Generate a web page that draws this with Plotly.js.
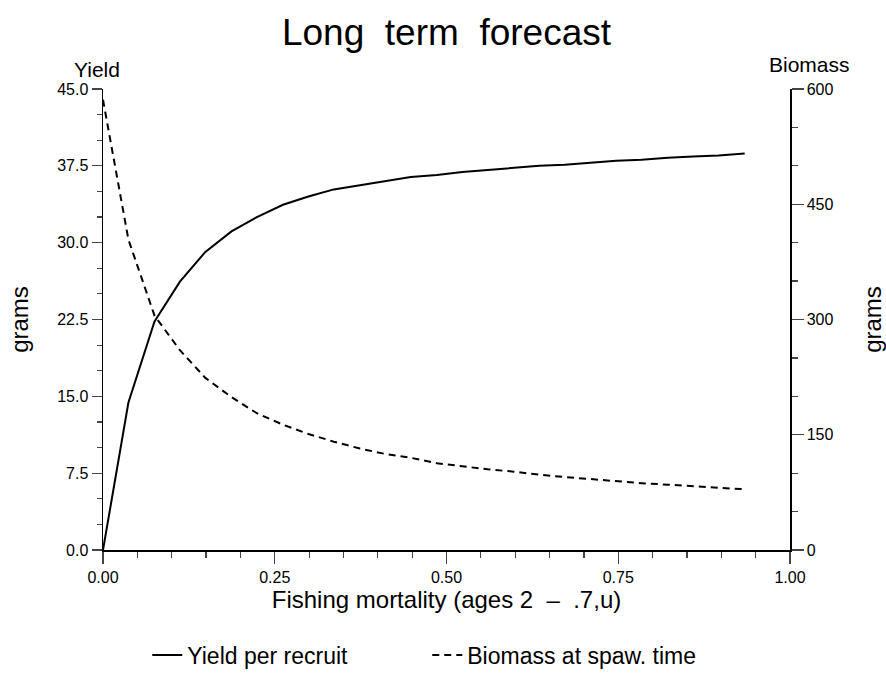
<!DOCTYPE html>
<html>
<head>
<meta charset="utf-8">
<script src="https://cdn.plot.ly/plotly-3.0.1.min.js"></script>
<style>html,body{margin:0;padding:0;background:#fff;}#chart{width:886px;height:684px;}</style>
</head>
<body>
<div id="chart"></div>
<script>
// Fishing mortality values (x)
const fishingMortality = [0, 0.037, 0.075, 0.112, 0.149, 0.187, 0.224, 0.262, 0.299, 0.336, 0.374, 0.411, 0.448, 0.486, 0.523, 0.560, 0.598, 0.635, 0.672, 0.710, 0.747, 0.784, 0.822, 0.859, 0.896, 0.934];
// Yield per recruit (grams, left axis)
const yieldPerRecruit = [0, 14.4, 22.3, 26.2, 29.1, 31.1, 32.5, 33.7, 34.5, 35.2, 35.6, 36.0, 36.4, 36.6, 36.9, 37.1, 37.3, 37.5, 37.6, 37.8, 38.0, 38.1, 38.3, 38.4, 38.5, 38.7];
// Biomass at spawning time (grams, right axis)
const biomassAtSpawn = [586, 404, 305, 260, 224, 199, 178, 163, 151, 141, 132, 125, 120, 113, 109, 105, 102, 98, 95, 92, 90, 87, 85, 83, 81, 79];

const xTickVals = [0, 0.25, 0.5, 0.75, 1.0];
const yTickVals = [0, 7.5, 15, 22.5, 30, 37.5, 45];
const y2TickVals = [0, 150, 300, 450, 600];

const FONT = 'Liberation Sans, Arial, Helvetica, sans-serif';

const traces = [
  {x: fishingMortality, y: yieldPerRecruit, name: 'Yield per recruit', type: 'scatter', mode: 'lines',
   line: {color: '#000', width: 2}, yaxis: 'y'},
  {x: fishingMortality, y: biomassAtSpawn, name: 'Biomass at spaw. time', type: 'scatter', mode: 'lines',
   line: {color: '#000', width: 2, dash: '7px,5px'}, yaxis: 'y2'}
];

const layout = {
  width: 886, height: 684,
  paper_bgcolor: '#fff', plot_bgcolor: '#fff',
  font: {family: FONT, color: '#000', size: 16},
  margin: {l: 103, r: 96, t: 89, b: 134},
  title: {text: 'Long\u00a0 term\u00a0 forecast', font: {size: 37, family: FONT, color: '#000'},
          x: 0.5, xref: 'paper', xanchor: 'center', y: 1 - 32/684, yref: 'container', yanchor: 'middle'},
  showlegend: true,
  legend: {orientation: 'h', x: 0.472, xanchor: 'center', xref: 'paper', y: 29/684, yref: 'container', yanchor: 'middle',
           font: {size: 23, family: FONT}, entrywidth: 235, entrywidthmode: 'pixels'},
  xaxis: {range: [0, 1], tickvals: xTickVals, tickformat: '.2f', ticks: 'outside', ticklen: 12, tickwidth: 1.2,
          showline: true, linecolor: '#000', linewidth: 1.5, showgrid: false, zeroline: false,
          tickfont: {size: 16}, minor: {dtick: 0.05, ticks: 'outside', ticklen: 6, tickwidth: 1.2, showgrid: false},
          title: {text: 'Fishing mortality (ages 2\u00a0\u00a0\u2013\u00a0\u00a0.7,u)', font: {size: 24}, standoff: 5}},
  yaxis: {range: [0, 45], tickvals: yTickVals, tickformat: '.1f', ticks: 'outside', ticklen: 10, tickwidth: 1.2,
          showline: true, linecolor: '#000', linewidth: 1.5, showgrid: false, zeroline: false,
          tickfont: {size: 16}, minor: {dtick: 2.5, ticks: 'outside', ticklen: 5, tickwidth: 1.2, showgrid: false},
          title: {text: 'grams', font: {size: 24}, standoff: 22}},
  yaxis2: {range: [0, 600], tickvals: y2TickVals, tickformat: 'd', ticks: 'outside', ticklen: 12, tickwidth: 1.2,
           overlaying: 'y', side: 'right', anchor: 'x',
           showline: true, linecolor: '#000', linewidth: 1.5, showgrid: false, zeroline: false,
           tickfont: {size: 16}, minor: {dtick: 50, ticks: 'outside', ticklen: 6, tickwidth: 1.2, showgrid: false},
           title: {text: 'grams', font: {size: 24}, standoff: 31}},
  annotations: [
    {text: 'Yield', xref: 'paper', yref: 'paper', x: -0.009, y: 1, yshift: 20, xanchor: 'center', yanchor: 'middle',
     showarrow: false, font: {size: 21}},
    {text: 'Biomass', xref: 'paper', yref: 'paper', x: 1.029, y: 1, yshift: 25, xanchor: 'center', yanchor: 'middle',
     showarrow: false, font: {size: 21}}
  ]
};

Plotly.newPlot('chart', traces, layout, {displayModeBar: false, staticPlot: true});
</script>
</body>
</html>
